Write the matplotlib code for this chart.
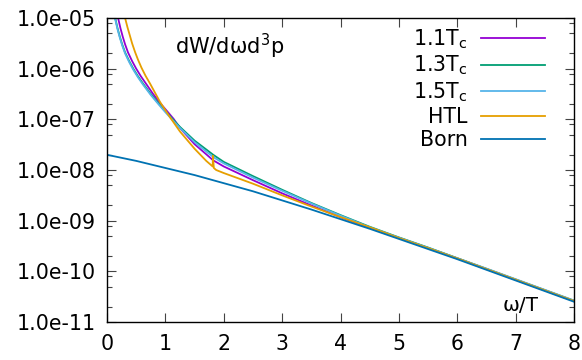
import numpy as np
import matplotlib
matplotlib.use("Agg")
import matplotlib.pyplot as plt
from matplotlib.ticker import FuncFormatter, FixedLocator, NullFormatter

# values, stored as log10(dW/dw d^3p)
born_w = [0, 0.5, 1, 1.5, 2, 2.5, 3, 3.5, 4, 4.5, 5, 5.5, 6, 6.5, 7, 7.5, 8]
born_lg = [-7.70, -7.82, -7.96, -8.10, -8.26, -8.42, -8.60, -8.78, -8.97,
           -9.16, -9.36, -9.56, -9.76, -9.97, -10.18, -10.39, -10.60]

tc11_w = [0.15, 0.19, 0.23, 0.27, 0.31, 0.36, 0.43, 0.50, 0.58, 0.67, 0.79,
          0.91, 1.03, 1.14, 1.25, 1.5, 1.82, 2.0, 2.5, 3.0, 3.5, 4.0, 4.5,
          5.0, 5.5, 6.0, 6.5, 7.0, 7.5, 8.0]
tc11_lg = [-4.75, -5.0, -5.2, -5.37, -5.52, -5.68, -5.85, -6.0, -6.15, -6.3,
           -6.5, -6.68, -6.84, -6.99, -7.17, -7.49, -7.81, -7.93, -8.20,
           -8.46, -8.70, -8.93, -9.14, -9.34, -9.54, -9.745, -9.955, -10.165,
           -10.375, -10.585]

tc13_w = [0.1, 0.14, 0.18, 0.22, 0.26, 0.31, 0.38, 0.45, 0.53, 0.62, 0.75,
          0.88, 1.0, 1.12, 1.25, 1.5, 1.82, 2.0, 2.5, 3.0, 3.5, 4.0, 4.5,
          5.0, 5.5, 6.0, 6.5, 7.0, 7.5, 8.0]
tc13_lg = [-4.72, -5.0, -5.2, -5.37, -5.52, -5.68, -5.85, -6.0, -6.15, -6.3,
           -6.5, -6.68, -6.84, -6.99, -7.15, -7.42, -7.70, -7.84, -8.12,
           -8.39, -8.65, -8.89, -9.12, -9.33, -9.53, -9.74, -9.95, -10.16,
           -10.37, -10.58]

tc15_w = [0.1, 0.14, 0.18, 0.22, 0.26, 0.31, 0.38, 0.45, 0.53, 0.62, 0.75,
          0.88, 1.0, 1.12, 1.25, 1.5, 1.82, 2.0, 2.5, 3.0, 3.5, 4.0, 4.5,
          5.0, 5.5, 6.0, 6.5, 7.0, 7.5, 8.0]
tc15_lg = [-4.75, -5.02, -5.22, -5.39, -5.54, -5.7, -5.87, -6.02, -6.17,
           -6.32, -6.52, -6.70, -6.86, -7.01, -7.17, -7.45, -7.745, -7.87,
           -8.15, -8.41, -8.66, -8.90, -9.13, -9.335, -9.535, -9.74, -9.945,
           -10.155, -10.365, -10.575]

htl_w = [0.26, 0.31, 0.35, 0.39, 0.43, 0.48, 0.53, 0.59, 0.66, 0.74, 0.82,
         0.91, 1.0, 1.08, 1.25, 1.5, 1.7, 1.81, 1.815, 1.83, 1.87, 2.0, 2.5,
         3.0, 3.5, 4.0, 4.5, 5.0, 5.5, 6.0, 6.5, 7.0, 7.5, 8.0]
htl_lg = [-4.8, -5.0, -5.18, -5.34, -5.5, -5.67, -5.82, -5.98, -6.14, -6.3,
          -6.47, -6.66, -6.82, -6.96, -7.24, -7.58, -7.82, -7.93, -7.72,
          -7.96, -8.00, -8.06, -8.27, -8.50, -8.72, -8.93, -9.13, -9.34,
          -9.54, -9.745, -9.955, -10.165, -10.375, -10.585]

labels = [r"1.1T$_\mathregular{c}$", r"1.3T$_\mathregular{c}$",
          r"1.5T$_\mathregular{c}$", "HTL", "Born"]
colors = ["#9400d3", "#009e73", "#56b4e9", "#e69f00", "#0072b2"]
yticks = [1e-11, 1e-10, 1e-9, 1e-8, 1e-7, 1e-6, 1e-5]

plt.rcParams["font.family"] = ["DejaVu Sans"]
plt.rcParams["mathtext.fontset"] = "dejavusans"

fig = plt.figure(figsize=(5.82, 3.60), dpi=100)
ax = fig.add_axes([107 / 582, 1 - 322 / 360, 467 / 582, 304 / 360])

series = [(tc11_w, tc11_lg), (tc13_w, tc13_lg), (tc15_w, tc15_lg),
          (htl_w, htl_lg), (born_w, born_lg)]
for (w, lg), lab, c in zip(series, labels, colors):
    ax.plot(w, 10.0 ** np.array(lg), color=c, lw=1.3, label=lab)

ax.set_yscale("log")
ax.set_xlim(0, 8)
ax.set_ylim(1e-11, 1e-5)
ax.set_xticks(range(9))
ax.yaxis.set_major_locator(FixedLocator(yticks))
minor = [m * t for t in yticks[:-1] for m in (2, 5, 8)]
ax.yaxis.set_minor_locator(FixedLocator(minor))
ax.yaxis.set_major_formatter(FuncFormatter(lambda v, p: f"{v:.1e}"))
ax.yaxis.set_minor_formatter(NullFormatter())
ax.tick_params(which="both", direction="in", top=True, right=True,
               labelsize=14.8, width=0.8, color="#444444")
ax.tick_params(which="major", length=6.5)
ax.tick_params(which="minor", length=3.6)
ax.tick_params(axis="y", pad=8)
ax.tick_params(axis="x", pad=9)
for s in ax.spines.values():
    s.set_linewidth(1.0)

ax.text(0.146, 0.905, "dW/dωd$^\\mathregular{3}$p", transform=ax.transAxes,
        fontsize=15, va="center", ha="left")
ax.text(0.885, 0.055, "ω/T", transform=ax.transAxes,
        fontsize=14.5, va="center", ha="center")

leg = ax.legend(loc="upper right", bbox_to_anchor=(0.955, 0.997),
                frameon=False, fontsize=14.8, markerfirst=False,
                handlelength=3.1, handletextpad=0.65, labelspacing=0.15,
                borderaxespad=0)

fig.savefig("out.png", dpi=100)
